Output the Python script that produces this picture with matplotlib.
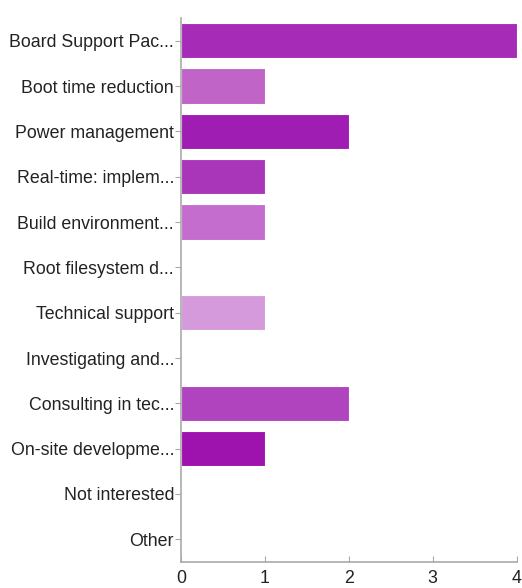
import matplotlib
matplotlib.use("Agg")
import matplotlib.pyplot as plt

categories = ["Board Support Pac...", "Boot time reduction", "Power management",
              "Real-time: implem...", "Build environment...", "Root filesystem d...",
              "Technical support", "Investigating and...", "Consulting in tec...",
              "On-site developme...", "Not interested", "Other"]
values = [4, 1, 2, 1, 1, 0, 1, 0, 2, 1, 0, 0]
colors = ["#a62bb6", "#c064c8", "#a01db4", "#a935b8", "#c46dce", "#c46dce",
          "#d59adb", "#d59adb", "#b044be", "#9e12ae", "#9e12ae", "#9e12ae"]
xticks = [0, 1, 2, 3, 4]

plt.rcParams['font.family'] = ['Liberation Sans', 'DejaVu Sans']
fig = plt.figure(figsize=(5.22, 5.88), dpi=100)
ax = fig.add_axes([181/522, 1-562/588, (516.7-181)/522, (562-18)/588])

y = list(range(len(categories)))
ax.barh(y, values, height=0.78, color=colors, edgecolor="#ffffff", linewidth=0.8)
ax.set_ylim(len(categories)-0.5, -0.5)
ax.set_xlim(0, 4)
ax.set_yticks(y)
ax.set_yticklabels(categories, fontsize=12.8, color="#222222")
ax.set_xticks(xticks)
ax.set_xticklabels([str(t) for t in xticks], fontsize=12.8, color="#222222")
for s in ["top", "right"]:
    ax.spines[s].set_visible(False)
for s in ["left", "bottom"]:
    ax.spines[s].set_color("#aaaaaa")
    ax.spines[s].set_linewidth(1.2)
ax.tick_params(axis="y", direction="out", length=4, color="#aaaaaa", pad=1)
ax.tick_params(axis="x", direction="in", length=4, color="#aaaaaa", pad=6)
fig.savefig("out.png", dpi=100)
